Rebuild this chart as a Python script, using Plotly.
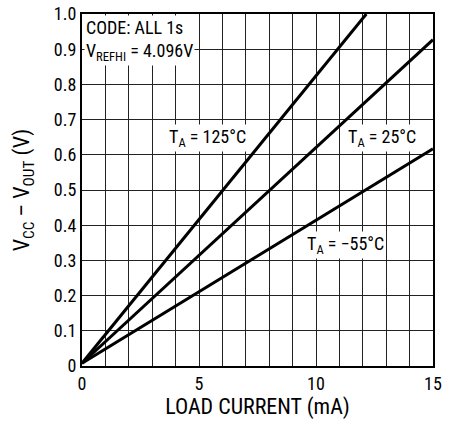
import plotly.graph_objects as go

# Data
load_125 = [0, 12.15]
vdrop_125 = [0.008, 1.0]
load_25 = [0, 15]
vdrop_25 = [0.008, 0.927]
load_m55 = [0, 15]
vdrop_m55 = [0.008, 0.617]

x_grid = list(range(0, 16))
x_ticktext = [str(v) if v % 5 == 0 else "" for v in x_grid]
y_vals = [round(i * 0.1, 1) for i in range(0, 11)]
y_ticktext = ["0" if v == 0 else f"{v:.1f}" for v in y_vals]

FONT = "Liberation Sans Narrow, Arial Narrow, Roboto Condensed, Liberation Sans, sans-serif"
FS = 18

fig = go.Figure()
for xs, ys in [(load_125, vdrop_125), (load_25, vdrop_25), (load_m55, vdrop_m55)]:
    fig.add_trace(go.Scatter(x=xs, y=ys, mode="lines",
                             line=dict(color="black", width=3), showlegend=False,
                             hoverinfo="skip"))

ann = dict(showarrow=False, bgcolor="white", font=dict(family=FONT, size=FS, color="black"),
           xref="x", yref="y")
fig.add_annotation(x=5.38, y=0.648, text="T<sub>A</sub> = 125°C", **ann)
fig.add_annotation(x=12.81, y=0.648, text="T<sub>A</sub> = 25°C", **ann)
fig.add_annotation(x=11.27, y=0.344, text="T<sub>A</sub> = −55°C", **ann)
fig.add_annotation(x=0.1, y=0.997, text="CODE: ALL 1s<br>V<sub>REFHI</sub> = 4.096V",
                   xanchor="left", yanchor="top", align="left", borderpad=1,
                   showarrow=False, bgcolor="white",
                   font=dict(family=FONT, size=FS, color="black"), xref="x", yref="y")

fig.update_layout(
    width=461, height=421,
    margin=dict(l=82, r=28, t=14, b=55),
    paper_bgcolor="white", plot_bgcolor="white",
    font=dict(family=FONT, size=FS, color="black"),
)
fig.update_xaxes(range=[0, 15], tickvals=x_grid, ticktext=x_ticktext,
                 showgrid=True, gridcolor="#222", gridwidth=1,
                 showline=True, linecolor="black", linewidth=2, mirror=True,
                 ticks="", zeroline=False, automargin=False,
                 title=dict(text="LOAD CURRENT (mA)", standoff=3))
fig.update_yaxes(range=[0, 1.0], tickvals=y_vals, ticktext=y_ticktext,
                 showgrid=True, gridcolor="#222", gridwidth=1,
                 showline=True, linecolor="black", linewidth=2, mirror=True,
                 ticks="", zeroline=False, automargin=False,
                 title=dict(text="V<sub>CC</sub> – V<sub>OUT</sub> (V)", standoff=18))

fig.write_html("out.html", config={"displayModeBar": False},
               post_script="document.body.style.margin='0';")
